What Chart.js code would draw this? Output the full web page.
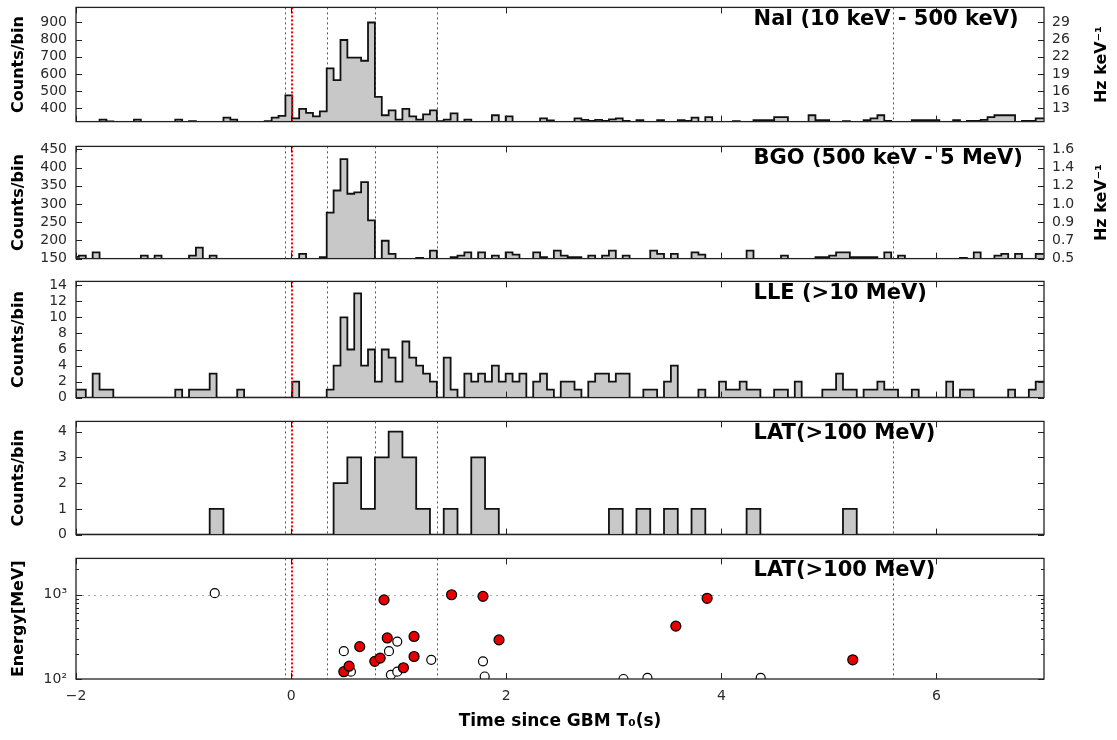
<!DOCTYPE html>
<html>
<head>
<meta charset="utf-8">
<script src="https://cdn.jsdelivr.net/npm/chart.js@4.4.1/dist/chart.umd.min.js"></script>
<style>
  html, body { margin: 0; padding: 0; background: #fff; }
  #wrap { position: relative; width: 1117px; height: 740px; overflow: hidden; }
  #wrap canvas { position: absolute; left: 0; }
</style>
</head>
<body>
<div id="wrap">
  <canvas id="nai" width="1117" height="149" style="top:-10px"></canvas>
  <canvas id="bgo" width="1117" height="147" style="top:129px"></canvas>
  <canvas id="lle" width="1117" height="151" style="top:264px"></canvas>
  <canvas id="latc" width="1117" height="148" style="top:404px"></canvas>
  <canvas id="late" width="1117" height="199" style="top:541px"></canvas>
</div>
<script>
// ---- data ----
const timeStart = -2.037;   // left edge of first bin (s)
const gbmBin = 0.064;       // NaI / BGO / LLE bin width (s)
const latBin = 0.128;       // LAT bin width (s)

const naiCounts = [
  318,318,318,318,334,323,318,318,318,334,
  318,318,318,318,318,334,318,324,318,318,
  318,318,345,334,318,318,318,318,324,345,
  355,475,341,396,373,352,382,632,564,798,
  695,695,677,900,466,359,387,334,396,352,
  334,364,387,324,334,370,318,334,318,318,
  318,359,318,352,318,318,318,318,341,329,
  318,318,318,341,332,326,332,326,335,341,
  326,318,330,318,318,330,318,318,330,326,
  345,318,348,318,318,318,324,318,318,330,
  330,330,348,348,318,318,318,359,330,330,
  318,318,324,318,318,330,341,359,326,318,
  318,318,330,330,330,330,318,318,330,318,
  326,326,332,348,359,359,359,320,326,326,
  341,341
];
const bgoCounts = [
  155,158,148,167,148,148,148,148,148,148,
  158,148,158,148,148,148,148,158,180,148,
  158,148,148,148,148,148,148,148,148,148,
  148,148,148,163,148,148,154,276,337,423,
  328,332,360,255,148,199,163,148,148,148,
  152,148,172,148,148,154,158,167,148,167,
  148,158,148,167,161,148,148,167,154,148,
  172,158,154,154,148,158,148,158,172,148,
  158,148,148,148,172,163,148,163,148,148,
  167,161,148,148,148,148,148,148,172,148,
  148,148,148,158,148,148,148,148,154,154,
  158,167,167,154,154,154,154,148,167,148,
  158,148,148,148,148,148,148,148,148,152,
  148,167,148,148,158,163,148,163,148,148,
  163,163
];
const lleCounts = [
  1,1,0,3,1,1,0,0,0,0,
  0,0,0,0,0,1,0,1,1,1,
  3,0,0,0,1,0,0,0,0,0,
  0,0,2,0,0,0,0,1,4,10,
  6,13,4,6,2,6,5,2,7,5,
  4,3,2,0,5,1,0,3,2,3,
  2,4,2,3,2,3,0,2,3,1,
  0,2,2,1,0,2,3,3,2,3,
  3,0,0,1,1,0,2,4,0,0,
  0,1,0,0,2,1,1,2,1,1,
  0,0,1,1,0,2,0,0,0,1,
  1,3,1,1,0,1,1,2,1,1,
  0,0,1,0,0,0,0,2,0,1,
  1,0,0,0,0,0,1,0,0,1,
  2,2
];
const latCounts = [
  0,0,0,0,0,0,0,0,0,0,
  1,0,0,0,0,0,0,0,0,2,
  3,1,3,4,3,1,0,1,0,3,
  1,0,0,0,0,0,0,0,0,1,
  0,1,0,1,0,1,0,0,0,1,
  0,0,0,0,0,0,1,0,0,0,
  0,0,0,0,0,0,0,0,0,0,
  0
];

// LAT photon events: time (s) and energy (MeV)
const latOpenTime   = [-0.71, 0.49, 0.556, 0.91, 0.987, 0.928, 0.987, 1.303, 1.784, 1.80, 3.09, 3.313, 4.366];
const latOpenEnergy = [1045, 214, 122, 214, 278, 112, 122, 169, 162, 107, 100, 103, 103];
const latRedTime    = [0.49, 0.539, 0.638, 0.778, 0.828, 0.864, 0.894, 1.044, 1.143, 1.143, 1.492, 1.784, 1.933, 3.577, 3.868, 5.222];
const latRedEnergy  = [122, 142, 242, 162, 177, 869, 307, 136, 320, 185, 1000, 957, 291, 424, 907, 169];

const markerTimes = [-0.053, 0.331, 0.779, 1.356, 5.6];
const triggerTime = 0;

const xTickValues = [-2, 0, 2, 4, 6];
const xTickLabels = ['\u22122', '0', '2', '4', '6'];
const naiTicks = [400, 500, 600, 700, 800, 900];
const naiHzLabels = ['13', '16', '19', '22', '26', '29'];
const bgoTicks = [150, 200, 250, 300, 350, 400, 450];
const bgoHzLabels = ['0.5', '0.7', '0.9', '1.0', '1.2', '1.4', '1.6'];
const lleTicks = [0, 2, 4, 6, 8, 10, 12, 14];
const latTicks = [0, 1, 2, 3, 4];
const energyTicks = [100, 200, 300, 400, 500, 600, 700, 800, 900, 1000, 2000];
const energyTickLabels = ['10\u00b2', '', '', '', '', '', '', '', '', '10\u00b3', ''];

// ---- helpers ----
const FONT = "'DejaVu Sans', sans-serif";
Chart.defaults.font.family = FONT;
Chart.defaults.color = '#2a2a2a';

function stepPoints(counts, w) {
  const pts = counts.map((c, i) => ({x: timeStart + i * w, y: c}));
  pts.push({x: timeStart + counts.length * w, y: counts[counts.length - 1]});
  return pts;
}

function histDataset(counts, w) {
  return {
    data: stepPoints(counts, w), stepped: true, fill: 'start',
    backgroundColor: '#c8c8c8', borderColor: '#111', borderWidth: 1.8,
    pointRadius: 0, clip: 0
  };
}

function leftAxis(min, max, ticks, title, extra) {
  return Object.assign({
    position: 'left', min, max,
    afterBuildTicks: s => { s.ticks = ticks.map(v => ({value: v})); },
    afterFit: s => { s.width = 76; },
    ticks: {autoSkip: false, padding: 9, font: {size: 14}},
    grid: {drawOnChartArea: false, drawTicks: false},
    border: {display: false},
    title: {display: true, text: title, color: '#000',
            font: {size: 16, weight: 'bold'}, padding: {top: 9, bottom: 0}}
  }, extra || {});
}

function rightAxis(min, max, ticks, labels) {
  return {
    position: 'right', min, max,
    afterBuildTicks: s => { s.ticks = ticks.map(v => ({value: v})); },
    afterFit: s => { s.width = 73; },
    ticks: {autoSkip: false, padding: 8, font: {size: 14}, callback: (v, i) => labels[i]},
    grid: {drawOnChartArea: false, drawTicks: false},
    border: {display: false}
  };
}

const hiddenX = {type: 'linear', min: -2, max: 7, display: false};

// frame, inward ticks, marker lines, panel titles
const panelDecor = {
  id: 'panelDecor',
  beforeDatasetsDraw(chart, args, o) {
    const {ctx, chartArea: a, scales} = chart;
    ctx.save();
    ctx.lineWidth = 1;
    if (o.hGrid) {
      ctx.strokeStyle = '#aaa'; ctx.setLineDash([2, 4]);
      o.hGrid.forEach(v => {
        const py = Math.round(scales.y.getPixelForValue(v)) + 0.5;
        ctx.beginPath(); ctx.moveTo(a.left, py); ctx.lineTo(a.right, py); ctx.stroke();
      });
    }
    ctx.strokeStyle = '#555'; ctx.setLineDash([2, 3]);
    markerTimes.forEach(t => {
      const px = Math.round(scales.x.getPixelForValue(t)) + 0.5;
      ctx.beginPath(); ctx.moveTo(px, a.top); ctx.lineTo(px, a.bottom); ctx.stroke();
    });
    ctx.restore();
  },
  afterDatasetsDraw(chart, args, o) {
    const {ctx, chartArea: a, scales} = chart;
    ctx.save();
    // trigger time
    ctx.strokeStyle = '#ff0000'; ctx.lineWidth = 2; ctx.setLineDash([2, 2]);
    const rx = Math.round(scales.x.getPixelForValue(triggerTime)) + 1;
    ctx.beginPath(); ctx.moveTo(rx, a.top); ctx.lineTo(rx, a.bottom); ctx.stroke();
    ctx.setLineDash([]);
    // frame
    ctx.strokeStyle = '#222'; ctx.lineWidth = 1.3;
    ctx.strokeRect(a.left, a.top, a.right - a.left, a.bottom - a.top);
    // ticks
    ctx.lineWidth = 1;
    xTickValues.forEach(v => {
      const px = Math.round(scales.x.getPixelForValue(v)) + 0.5;
      ctx.beginPath();
      ctx.moveTo(px, a.bottom); ctx.lineTo(px, a.bottom - 6);
      ctx.moveTo(px, a.top); ctx.lineTo(px, a.top + 6);
      ctx.stroke();
    });
    const hasRight = !!scales.y2;
    scales.y.ticks.forEach(t => {
      const len = t.label ? 6 : 3;
      const py = Math.round(scales.y.getPixelForValue(t.value)) + 0.5;
      ctx.beginPath();
      ctx.moveTo(a.left, py); ctx.lineTo(a.left + len, py);
      if (!hasRight) { ctx.moveTo(a.right, py); ctx.lineTo(a.right - len, py); }
      ctx.stroke();
    });
    if (hasRight) {
      scales.y2.ticks.forEach(t => {
        const py = Math.round(scales.y2.getPixelForValue(t.value)) + 0.5;
        ctx.beginPath(); ctx.moveTo(a.right, py); ctx.lineTo(a.right - 6, py); ctx.stroke();
      });
    }
    // panel title
    ctx.fillStyle = '#000';
    ctx.font = 'bold 21px ' + FONT;
    ctx.textAlign = 'left'; ctx.textBaseline = 'middle';
    ctx.fillText(o.title, a.left + 0.7 * (a.right - a.left), a.top + 12);
    if (o.rightTitle) {
      ctx.translate(1102, (a.top + a.bottom) / 2);
      ctx.rotate(-Math.PI / 2);
      ctx.textAlign = 'center';
      ctx.font = 'bold 16px ' + FONT;
      ctx.fillText(o.rightTitle, 0, 0);
    }
    ctx.restore();
  }
};

const common = {
  responsive: false, animation: false, devicePixelRatio: 1,
  events: []
};

function plugins(extra) {
  return Object.assign({legend: {display: false}, tooltip: {enabled: false}}, {panelDecor: extra});
}

// NaI
new Chart(document.getElementById('nai'), {
  type: 'line',
  data: {datasets: [histDataset(naiCounts, gbmBin)]},
  options: Object.assign({}, common, {
    layout: {padding: {top: 12, bottom: 12, left: 0, right: 0}},
    plugins: plugins({title: 'NaI (10 keV - 500 keV)', rightTitle: 'Hz keV\u207b\u00b9'}),
    scales: {
      x: hiddenX,
      y: leftAxis(322, 988, naiTicks, 'Counts/bin'),
      y2: rightAxis(322, 988, naiTicks, naiHzLabels)
    }
  }),
  plugins: [panelDecor]
});

// BGO
new Chart(document.getElementById('bgo'), {
  type: 'line',
  data: {datasets: [histDataset(bgoCounts, gbmBin)]},
  options: Object.assign({}, common, {
    layout: {padding: {top: 12, bottom: 12, left: 0, right: 0}},
    plugins: plugins({title: 'BGO (500 keV - 5 MeV)', rightTitle: 'Hz keV\u207b\u00b9'}),
    scales: {
      x: hiddenX,
      y: leftAxis(150, 458, bgoTicks, 'Counts/bin'),
      y2: rightAxis(150, 458, bgoTicks, bgoHzLabels)
    }
  }),
  plugins: [panelDecor]
});

// LLE
new Chart(document.getElementById('lle'), {
  type: 'line',
  data: {datasets: [histDataset(lleCounts, gbmBin)]},
  options: Object.assign({}, common, {
    layout: {padding: {top: 12, bottom: 12, left: 0, right: 73}},
    plugins: plugins({title: 'LLE (>10 MeV)'}),
    scales: {
      x: hiddenX,
      y: leftAxis(0, 14.5, lleTicks, 'Counts/bin')
    }
  }),
  plugins: [panelDecor]
});

// LAT counts
new Chart(document.getElementById('latc'), {
  type: 'line',
  data: {datasets: [histDataset(latCounts, latBin)]},
  options: Object.assign({}, common, {
    layout: {padding: {top: 12, bottom: 12, left: 0, right: 73}},
    plugins: plugins({title: 'LAT(>100 MeV)'}),
    scales: {
      x: hiddenX,
      y: leftAxis(0, 4.4, latTicks, 'Counts/bin')
    }
  }),
  plugins: [panelDecor]
});

// LAT energies
new Chart(document.getElementById('late'), {
  type: 'scatter',
  data: {
    datasets: [
      {data: latRedTime.map((t, i) => ({x: t, y: latRedEnergy[i]})),
       backgroundColor: '#e60000', borderColor: '#000', borderWidth: 1.2,
       pointRadius: 5, clip: 0},
      {data: latOpenTime.map((t, i) => ({x: t, y: latOpenEnergy[i]})),
       backgroundColor: '#fff', borderColor: '#000', borderWidth: 1.2,
       pointRadius: 4.5, clip: 0}
    ]
  },
  options: Object.assign({}, common, {
    layout: {padding: {top: 12, bottom: 4, left: 0, right: 73}},
    plugins: plugins({title: 'LAT(>100 MeV)', hGrid: [1000]}),
    scales: {
      x: {
        type: 'linear', min: -2, max: 7, position: 'bottom',
        afterBuildTicks: s => { s.ticks = xTickValues.map(v => ({value: v})); },
        afterFit: s => { s.height = 57; },
        ticks: {autoSkip: false, maxRotation: 0, padding: 9, font: {size: 14},
                callback: (v, i) => xTickLabels[i]},
        grid: {drawOnChartArea: false, drawTicks: false},
        border: {display: false},
        title: {display: true, text: 'Time since GBM T\u2080(s)', color: '#000',
                font: {size: 17, weight: 'bold'}, padding: {top: 0, bottom: 4}}
      },
      y: leftAxis(100, 2700, energyTicks, 'Energy[MeV]', {
        type: 'logarithmic',
        ticks: {autoSkip: false, padding: 9, font: {size: 14},
                callback: (v, i) => energyTickLabels[i]}
      })
    }
  }),
  plugins: [panelDecor]
});
</script>
</body>
</html>
